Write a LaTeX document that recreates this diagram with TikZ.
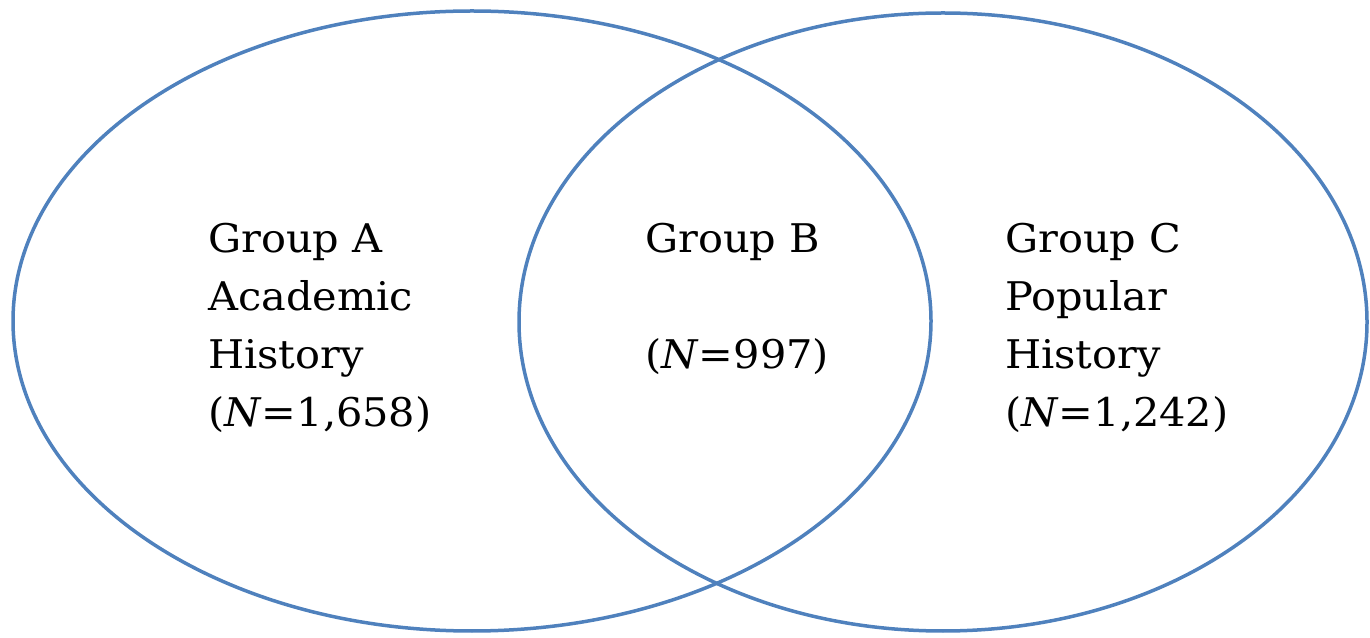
\documentclass[tikz,border=0pt]{standalone}
\usepackage{fontspec}
\setmainfont{DejaVu Serif}[FakeStretch=1.05]
\definecolor{vennblue}{HTML}{4F81BD}
\begin{document}
\begin{tikzpicture}[x=1pt,y=1pt,
  setline/.style={draw=vennblue, line width=3.5pt},
  grouplabel/.style={anchor=base west, inner sep=0pt, align=left,
    font={\fontsize{39.5}{58.3}\selectfont}, text=black}]
\useasboundingbox (0,0) rectangle (1370,637);
% image coords: y_tikz = 637 - y_img
\draw[setline] (472,316) ellipse [x radius=459, y radius=310];
\draw[setline] (943,315) ellipse [x radius=424, y radius=309];
\node[grouplabel] (ga) at (208,210) {Group A\\Academic\\History\\(\textit{N}=1,658)};
\node[grouplabel] (gb) at (645,268) {Group B\\[58.3pt](\textit{N}=997)};
\node[grouplabel] (gc) at (1005,210) {Group C\\Popular\\History\\(\textit{N}=1,242)};
\end{tikzpicture}
\end{document}
